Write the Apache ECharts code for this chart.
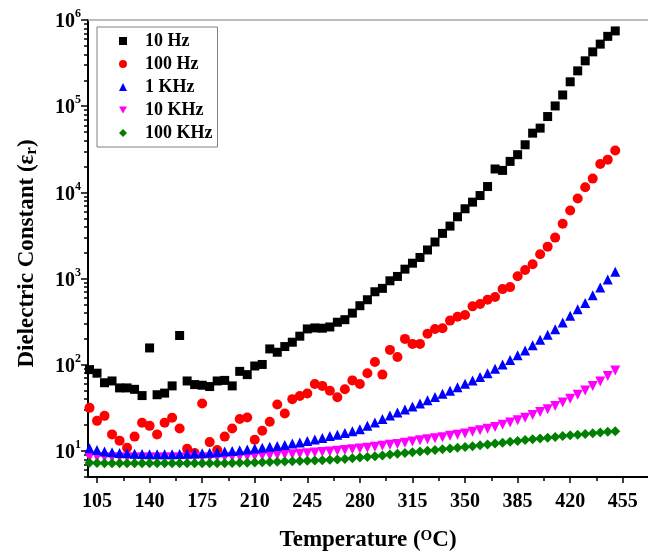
<!DOCTYPE html>
<html>
<head>
<meta charset="utf-8">
<script src="https://cdn.jsdelivr.net/npm/echarts@6/dist/echarts.min.js"></script>
<style>
html,body{margin:0;padding:0;background:#fff;}
#chart{width:648px;height:557px;}
</style>
</head>
<body>
<div id="chart"></div>
<script>
// Temperature (°C)
const temps = [100,105,110,115,120,125,130,135,140,145,150,155,160,165,170,175,180,185,190,195,
  200,205,210,215,220,225,230,235,240,245,250,255,260,265,270,275,280,285,290,295,
  300,305,310,315,320,325,330,335,340,345,350,355,360,365,370,375,380,385,390,395,
  400,405,410,415,420,425,430,435,440,445,450];

const hz10 = [88,80,62,65,54,54,52,44,157,45,47,57,219,65,59,58,56,65,66,57,
  84,77,97,101,153,140,163,183,215,261,268,266,275,312,334,398,485,569,704,771,
  944,1060,1288,1510,1760,2150,2660,3350,4070,5220,6460,7710,9200,11700,18700,18000,22900,27400,35700,48700,
  55700,75900,100700,135000,192000,257000,336000,427000,525000,646000,747000];

const hz100 = [31.7,22.4,25.6,15.6,13.2,10.9,14.7,21.3,19.6,15.6,21.3,24.3,18.3,10.6,9.5,35.6,12.7,10.3,14.7,18.3,
  23.5,24.5,13.5,17.2,21.9,34.6,27.2,40,43.6,46.4,60,57,50,42,52,66,60,80,108,77,
  149,123,200,175,175,229,261,266,326,362,379,477,508,569,612,756,797,1068,1260,1470,
  1920,2350,2990,4340,6170,8500,11480,14460,21350,24000,30700];

const khz1 = [10.8,10.3,9.9,9.7,9.5,9.4,9.3,9.25,9.2,9.2,9.2,9.2,9.25,9.3,9.35,9.45,9.55,9.7,9.85,10.0,
  10.2,10.45,10.7,10.95,11.2,11.45,11.75,12.2,12.6,13.1,13.6,14.2,14.9,15.5,16.2,17.0,17.9,19.6,21.5,23.6,
  25.8,28,30.3,32.8,35.6,38.8,42.3,46.1,50.2,55,60.3,66,72.4,79.8,90,101,114,129,147,169,
  195,224,259,309,370,440,521,640,789,977,1200];

const khz10 = [8.5,8.45,8.4,8.4,8.4,8.4,8.4,8.4,8.4,8.4,8.4,8.4,8.4,8.4,8.4,8.4,8.42,8.45,8.5,8.55,
  8.6,8.65,8.7,8.8,8.9,9.0,9.1,9.2,9.3,9.45,9.6,9.75,9.9,10.1,10.3,10.5,10.7,10.95,11.2,11.5,
  11.8,12.1,12.5,12.9,13.3,13.7,14.1,14.5,15.0,15.5,16.0,16.7,17.4,18.2,19.0,20.2,21.5,22.8,24.3,26.2,
  28.3,30.6,33.2,36.5,40.5,45,50.5,57,64,74,86];

const khz100 = [7.3,7.25,7.2,7.2,7.2,7.2,7.2,7.2,7.2,7.2,7.2,7.2,7.2,7.2,7.2,7.2,7.2,7.2,7.2,7.25,
  7.3,7.3,7.35,7.4,7.45,7.5,7.55,7.6,7.65,7.7,7.75,7.8,7.9,8.0,8.1,8.25,8.4,8.55,8.7,8.9,
  9.1,9.3,9.5,9.7,9.9,10.1,10.3,10.5,10.7,10.9,11.15,11.4,11.65,11.9,12.2,12.5,12.8,13.1,13.4,13.7,
  14.0,14.3,14.6,14.9,15.2,15.5,15.8,16.1,16.4,16.7,17.0];

const seriesNames = ['10 Hz','100 Hz','1 KHz','10 KHz','100 KHz'];
const xMajorTicks = [105,140,175,210,245,280,315,350,385,420,455];
const xMinorTicks = [122.5,157.5,192.5,227.5,262.5,297.5,332.5,367.5,402.5,437.5];
const yMajorTicks = [10,100,1000,10000,100000,1000000];
const yMinorTicks = [5,6,7,8,9,20,30,40,50,60,70,80,90,200,300,400,500,600,700,800,900,
  2000,3000,4000,5000,6000,7000,8000,9000,20000,30000,40000,50000,60000,70000,80000,90000,
  200000,300000,400000,500000,600000,700000,800000,900000];

const FONT = '"Liberation Serif","Times New Roman",serif';
const X_MIN = 99, X_MAX = 471.8, Y_MIN = 5, Y_MAX = 1000000;

function pairs(vals){ return temps.map((t,i)=>[t, vals[i]]); }

const chart = echarts.init(document.getElementById('chart'), null, {renderer:'canvas'});

// draw order: magenta sits under the blue and green markers
const styles = [
  {name:'10 Hz', symbol:'rect', size:9, color:'#000000', rotate:0, data:hz10},
  {name:'100 Hz', symbol:'circle', size:10, color:'#ff0000', rotate:0, data:hz100},
  {name:'10 KHz', symbol:'triangle', size:10, color:'#ff00ff', rotate:180, data:khz10},
  {name:'1 KHz', symbol:'triangle', size:10, color:'#0000ff', rotate:0, data:khz1},
  {name:'100 KHz', symbol:'diamond', size:10, color:'#008000', rotate:0, data:khz100}
];

const legendData = seriesNames.map(n => n === '10 KHz'
  ? {name:n, icon:'path://M0,0 L10,0 L5,9 Z'}
  : {name:n});

const option = {
  animation:false,
  backgroundColor:'#ffffff',
  grid:{left:88, top:20, right:0, bottom:78, containLabel:false},
  legend:{
    orient:'vertical', left:97, top:27,
    data:legendData,
    itemWidth:8, itemHeight:8, itemGap:5,
    padding:[5,5,5,22],
    borderColor:'#808080', borderWidth:1,
    textStyle:{fontFamily:FONT, fontWeight:'bold', fontSize:18, color:'#000', padding:[0,0,0,13]}
  },
  xAxis:[
    {
      type:'value', min:X_MIN, max:X_MAX, position:'bottom',
      axisLine:{onZero:false, lineStyle:{color:'#000', width:2}},
      axisTick:{customValues:xMajorTicks, length:6, inside:false, lineStyle:{color:'#000', width:1.5}},
      axisLabel:{customValues:xMajorTicks, fontFamily:FONT, fontWeight:'bold', fontSize:20, color:'#000', margin:15},
      splitLine:{show:false},
      name:'Temperature ({s|O}C)', nameLocation:'middle', nameGap:52,
      nameTextStyle:{fontFamily:FONT, fontWeight:'bold', fontSize:23, color:'#000',
        rich:{s:{fontFamily:FONT, fontWeight:'bold', fontSize:15, color:'#000', verticalAlign:'top', lineHeight:23}}}
    },
    {
      type:'value', min:X_MIN, max:X_MAX, position:'bottom',
      axisLine:{show:false, onZero:false},
      axisTick:{customValues:xMinorTicks, length:4, lineStyle:{color:'#000', width:1.5}},
      axisLabel:{show:false}, splitLine:{show:false}
    },
    {
      type:'value', min:X_MIN, max:X_MAX, position:'top',
      axisLine:{onZero:false, lineStyle:{color:'#a8a8a8', width:1.5}},
      axisTick:{show:false}, axisLabel:{show:false}, splitLine:{show:false}
    }
  ],
  yAxis:[
    {
      type:'log', logBase:10, min:Y_MIN, max:Y_MAX, position:'left',
      axisLine:{onZero:false, lineStyle:{color:'#000', width:2}},
      axisTick:{customValues:yMajorTicks, length:7, lineStyle:{color:'#000', width:1.5}},
      axisLabel:{customValues:yMajorTicks, margin:7, color:'#000',
        fontFamily:FONT, fontWeight:'bold', fontSize:20,
        formatter:function(v){ return '{b|10}{s|' + Math.round(Math.log10(v)) + '}'; },
        rich:{
          b:{fontFamily:FONT, fontWeight:'bold', fontSize:20, color:'#000', lineHeight:24, verticalAlign:'bottom'},
          s:{fontFamily:FONT, fontWeight:'bold', fontSize:12, color:'#000', verticalAlign:'top', lineHeight:24}
        }},
      splitLine:{show:false},
      name:'Dielectric Constant (ε{r|r})', nameLocation:'middle', nameGap:48,
      nameTextStyle:{fontFamily:FONT, fontWeight:'bold', fontSize:23, color:'#000', padding:[0,10,0,0],
        rich:{r:{fontFamily:FONT, fontWeight:'bold', fontSize:17, color:'#000', verticalAlign:'bottom', lineHeight:26}}}
    },
    {
      type:'log', logBase:10, min:Y_MIN, max:Y_MAX, position:'left',
      axisLine:{show:false, onZero:false},
      axisTick:{customValues:yMinorTicks, length:4, lineStyle:{color:'#000', width:1.5}},
      axisLabel:{show:false}, splitLine:{show:false}
    }
  ],
  series: styles.map(s=>({
    name:s.name, type:'scatter', xAxisIndex:0, yAxisIndex:0,
    symbol:s.symbol, symbolSize:s.size, symbolRotate:s.rotate,
    itemStyle:{color:s.color, opacity:1},
    data:pairs(s.data)
  }))
};
chart.setOption(option);
</script>
</body>
</html>
